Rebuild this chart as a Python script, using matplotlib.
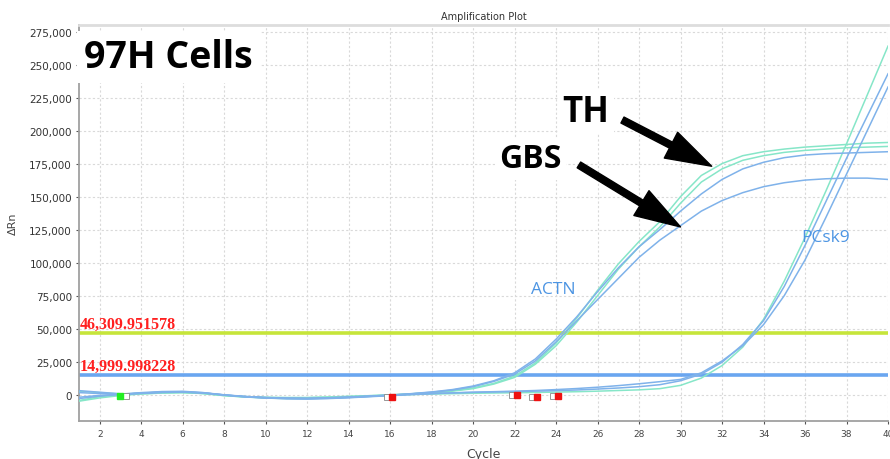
import numpy as np
import matplotlib.pyplot as plt

# ciclos y curvas de amplificacion
cycles = np.arange(1, 41)

th_green1 = [-4500, -1500, 0, 1200, 1800, 1800, 800, -800, -1800, -2300, -2500, -2400, -2000, -1500, -900, -300, 600, 1500, 3000, 5000,
             8500, 14000, 24000, 39000, 58000, 79000, 99000, 116000, 131000, 150000, 166000, 175000, 181000, 184000, 186000, 187500, 188500, 189500, 190500, 191000]
th_green2 = [2500, 1500, 500, 600, 1200, 1500, 900, -500, -1500, -2000, -2200, -2200, -1800, -1300, -800, -200, 500, 1300, 2600, 4500,
             8000, 13000, 23000, 37000, 55000, 75000, 95000, 112000, 127000, 145000, 161000, 171000, 177500, 181000, 183500, 185000, 186000, 187000, 187500, 188000]
th_blue = [-2000, -600, 300, 1500, 2300, 2500, 1500, -200, -1500, -2300, -2800, -3000, -2600, -2000, -1200, -400, 700, 2000, 3800, 6500,
           10500, 16500, 27000, 42000, 59000, 78000, 96000, 112000, 125000, 139000, 152000, 163000, 171000, 176000, 179500, 181500, 182500, 183000, 183500, 184000]
gbs_blue = [1500, 800, 200, 1000, 1800, 2000, 1200, -300, -1600, -2500, -3000, -3200, -2800, -2200, -1400, -500, 500, 1800, 3400, 6000,
            10000, 15500, 25500, 40000, 56000, 72000, 88000, 104000, 117000, 128000, 139000, 147000, 153000, 157500, 160500, 162500, 163500, 164000, 164000, 163000]

pcsk9_green = [-5000, -2500, -700, 500, 1200, 1500, 800, -700, -1800, -2600, -3000, -3000, -2600, -2000, -1300, -600, 0, 400, 700, 1000,
               1200, 1400, 1600, 1900, 2200, 2600, 3100, 3600, 4500, 7000, 12500, 22000, 36000, 57000, 86000, 119000, 154000, 190000, 227000, 264000]
pcsk9_blue1 = [3000, 1800, 600, 900, 1600, 1900, 1200, -200, -1400, -2200, -2600, -2700, -2400, -1800, -1100, -400, 200, 800, 1300, 1700,
               2000, 2300, 2600, 3000, 3500, 4200, 5000, 6000, 7500, 10500, 15500, 24500, 38000, 56000, 82000, 113000, 146000, 179000, 211000, 243000]
pcsk9_blue2 = [-3000, -1200, 100, 1100, 1900, 2200, 1400, -400, -1700, -2600, -3100, -3300, -3000, -2400, -1600, -800, 0, 700, 1300, 1800,
               2200, 2600, 3100, 3800, 4600, 5600, 6800, 8200, 9800, 11500, 16500, 25500, 37000, 53000, 75000, 102000, 134000, 167000, 200000, 233000]

threshold_hi = 46309.951578
threshold_lo = 14999.998228

# marcas Ct
ct_cycles = [16.1, 22.1, 23.1, 24.1]
ct_values = [-1500, 0, -1900, -750]
start_cycle = [3]
start_value = [-1000]

green = '#86e6c8'
blue = '#7fb2ea'

fig = plt.figure(figsize=(8.9, 4.6), dpi=100)
ax = fig.add_axes([79/890, 38/460, 809/890, 396/460])

ax.axhline(threshold_hi, color='#c6e53a', lw=2.6, zorder=2)
ax.axhline(threshold_lo, color='#6aa6f0', lw=2.6, zorder=2)

for ys in [pcsk9_green, th_green1, th_green2]:
    ax.plot(cycles, ys, color=green, lw=1.1, zorder=3)
for ys in [pcsk9_blue1, pcsk9_blue2, th_blue, gbs_blue]:
    ax.plot(cycles, ys, color=blue, lw=1.1, zorder=3)

ax.plot(np.array(ct_cycles) - 0.25, ct_values, 's', ms=4, mfc='white', mec='#888888', mew=0.6, zorder=4)
ax.plot(ct_cycles, ct_values, 's', ms=5, color='#ee1111', zorder=5)
ax.plot(np.array(start_cycle) + 0.25, start_value, 's', ms=4, mfc='white', mec='#888888', mew=0.6, zorder=4)
ax.plot(start_cycle, start_value, marker=(4, 0, 45), ls='none', ms=7, color='#22ee22', zorder=5)

ax.set_xlim(1, 40)
ax.set_ylim(-20000, 280000)
ax.set_xticks(np.arange(2, 41, 2))
ax.set_yticks(np.arange(0, 275001, 25000))
ax.yaxis.set_major_formatter(plt.FuncFormatter(lambda v, p: f'{int(v):,}'))
ax.tick_params(axis='y', labelsize=7.5, colors='#555555', labelcolor='#333333', length=2, pad=3)
ax.tick_params(axis='x', labelsize=6.5, colors='#555555', labelcolor='#444444', length=2, pad=4)
ax.grid(True, ls=(0, (2, 2)), color='#d9d9d9', lw=0.8)
ax.set_axisbelow(True)
for s in ['left', 'bottom']:
    ax.spines[s].set_color('#a0a0a0')
    ax.spines[s].set_linewidth(1.3)
ax.spines['top'].set_color('#dddddd')
ax.spines['top'].set_linewidth(2)
ax.spines['right'].set_visible(False)

ax.set_title('Amplification Plot', fontsize=7, color='#333333', pad=4)
ax.set_xlabel('Cycle', fontsize=9, color='#444444', labelpad=6)
ax.set_ylabel('ΔRn', fontsize=8, color='#444444', labelpad=8)

ax.text(1.02, threshold_hi + 1000, '46,309.951578', family='Liberation Serif', weight='bold',
        fontsize=11.5, color='#ff2020', va='bottom', zorder=6)
ax.text(1.02, threshold_lo + 1000, '14,999.998228', family='Liberation Serif', weight='bold',
        fontsize=11.5, color='#ff2020', va='bottom', zorder=6)

ax.text(1.25, 256000, '97H Cells', family='Open Sans', weight='bold', fontsize=27, va='center', ha='left',
        bbox=dict(facecolor='white', edgecolor='none', pad=5), zorder=10, clip_on=False)
ax.text(25.45, 214000, 'TH', family='Open Sans', weight='bold', fontsize=25, va='center', ha='center',
        bbox=dict(facecolor='white', edgecolor='none', pad=3), zorder=10)
ax.text(22.75, 178500, 'GBS', family='Open Sans', weight='bold', fontsize=23, va='center', ha='center',
        bbox=dict(facecolor='white', edgecolor='none', pad=3), zorder=10)
ax.text(23.85, 80000, 'ACTN', family='Open Sans', fontsize=12.5, color='#4d95e3', va='center', ha='center', zorder=6)
ax.text(37.0, 119500, 'PCsk9', family='Open Sans', fontsize=12.5, color='#4d95e3', va='center', ha='center', zorder=6)

arrow = dict(arrowstyle='simple,head_length=1.5,head_width=0.95,tail_width=0.22', color='black', shrinkA=0, shrinkB=0)
ax.annotate('', xy=(31.5, 173000), xytext=(27.2, 208000), arrowprops=dict(arrow, mutation_scale=22), zorder=11)
ax.annotate('', xy=(30.0, 127000), xytext=(25.1, 174000), arrowprops=dict(arrow, mutation_scale=22), zorder=11)

fig.savefig('out.png', dpi=100)
